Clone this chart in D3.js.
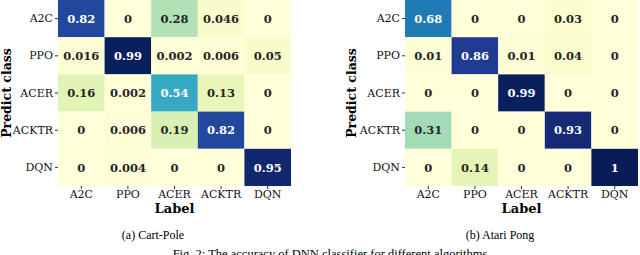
<!DOCTYPE html>
<html>
<head>
<meta charset="utf-8">
<script src="https://cdn.jsdelivr.net/npm/d3@7"></script>
<style>
  body { margin: 0; background: #fff; }
  svg { display: block; }
</style>
</head>
<body>
<svg id="chart" width="640" height="255"></svg>
<script>
// algorithms on both axes
const classes = ["A2C", "PPO", "ACER", "ACKTR", "DQN"];

// rows = predicted class, cols = label
const cartPole = [
  [0.82, 0, 0.28, 0.046, 0],
  [0.016, 0.99, 0.002, 0.006, 0.05],
  [0.16, 0.002, 0.54, 0.13, 0],
  [0, 0.006, 0.19, 0.82, 0],
  [0, 0.004, 0, 0, 0.95]
];
const atariPong = [
  [0.68, 0, 0, 0.03, 0],
  [0.01, 0.86, 0.01, 0.04, 0],
  [0, 0, 0.99, 0, 0],
  [0.31, 0, 0, 0.93, 0],
  [0, 0.14, 0, 0, 1]
];

const captions = ["(a) Cart-Pole", "(b) Atari Pong"];
const figCaption = "Fig. 2: The accuracy of DNN classifier for different algorithms";

const svg = d3.select("#chart");
const color = d3.scaleSequential(d3.interpolateYlGnBu).domain([0, 1]);
const serif = "DejaVu Serif";

function drawHeatmap(data, left, caption, capX, ylabX) {
  const w = 233, h = 186;
  const g = svg.append("g").attr("transform", `translate(${left},0)`);

  const x = d3.scaleBand().domain(classes).range([0, w]);
  const y = d3.scaleBand().domain(classes).range([0, h]);

  const cells = [];
  data.forEach((row, i) => row.forEach((v, j) => cells.push({ r: classes[i], c: classes[j], v })));

  g.selectAll("rect")
    .data(cells)
    .enter()
    .append("rect")
    .attr("x", d => x(d.c))
    .attr("y", d => y(d.r))
    .attr("width", x.bandwidth())
    .attr("height", y.bandwidth())
    .attr("fill", d => color(d.v));

  g.selectAll("text.val")
    .data(cells)
    .enter()
    .append("text")
    .attr("class", "val")
    .attr("x", d => x(d.c) + x.bandwidth() / 2)
    .attr("y", d => y(d.r) + y.bandwidth() / 2)
    .attr("dy", "0.36em")
    .attr("text-anchor", "middle")
    .attr("font-family", serif)
    .attr("font-weight", "bold")
    .attr("font-size", 11.5)
    .attr("fill", d => d.v > 0.5 ? "#ffffff" : "#262626")
    .text(d => d.v);

  // axes
  const yAxis = g.append("g").call(d3.axisLeft(y).tickSize(3).tickPadding(2));
  const xAxis = g.append("g").attr("transform", `translate(0,${h})`)
    .call(d3.axisBottom(x).tickSize(3).tickPadding(1));
  [yAxis, xAxis].forEach(ax => {
    ax.attr("font-family", serif).attr("font-size", 11);
    ax.select(".domain").remove();
    ax.selectAll("line").attr("stroke", "#333");
    ax.selectAll("text").attr("fill", "#111");
  });

  g.append("text")
    .attr("x", w / 2)
    .attr("y", 213)
    .attr("text-anchor", "middle")
    .attr("font-family", serif)
    .attr("font-weight", "bold")
    .attr("font-size", 13)
    .text("Label");

  g.append("text")
    .attr("transform", `translate(${ylabX - left},${h / 2}) rotate(-90)`)
    .attr("text-anchor", "middle")
    .attr("font-family", serif)
    .attr("font-weight", "bold")
    .attr("font-size", 12.5)
    .text("Predict class");

  svg.append("text")
    .attr("x", capX)
    .attr("y", 239)
    .attr("text-anchor", "middle")
    .attr("font-family", "Liberation Serif")
    .attr("font-size", 12)
    .text(caption);
}

drawHeatmap(cartPole, 58, captions[0], 153, 11);
drawHeatmap(atariPong, 405, captions[1], 500, 356);

svg.append("text")
  .attr("x", 330)
  .attr("y", 258)
  .attr("text-anchor", "middle")
  .attr("font-family", "Liberation Serif")
  .attr("font-size", 12.5)
  .text(figCaption);
</script>
</body>
</html>
